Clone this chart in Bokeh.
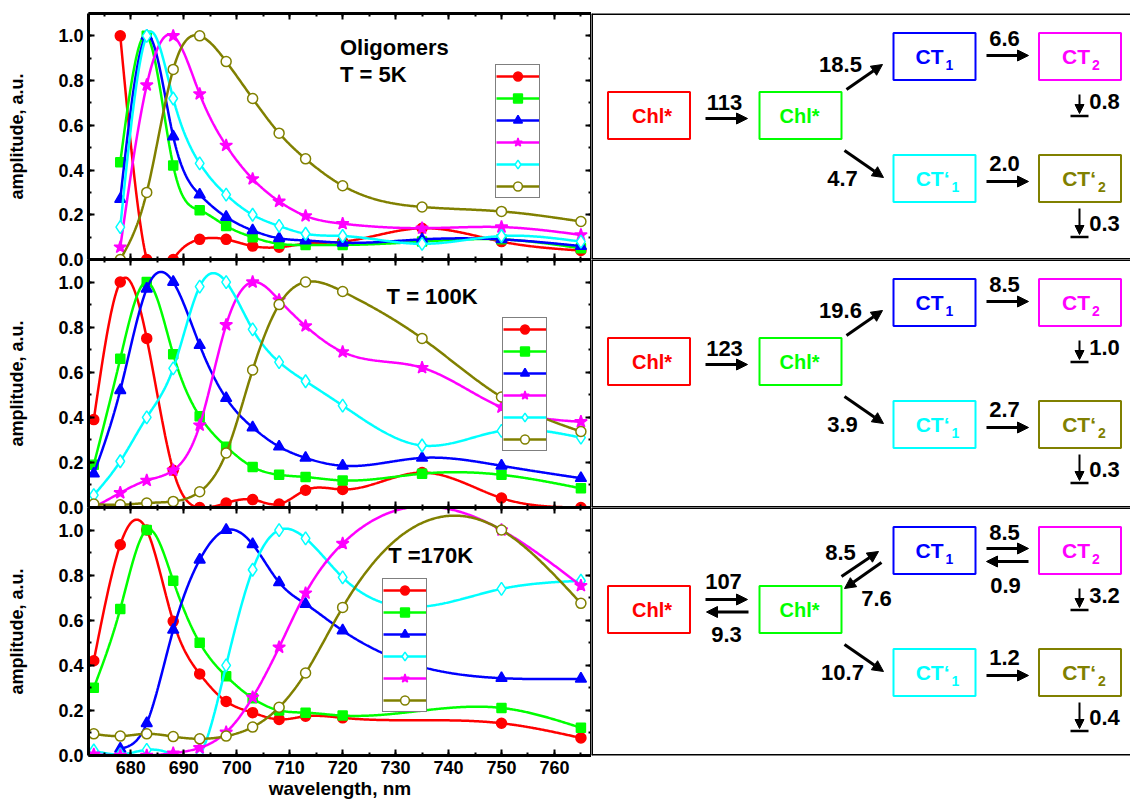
import numpy as np
from bokeh.plotting import figure
from bokeh.models import (Range1d, LinearAxis, SingleIntervalTicker, PrintfTickFormatter,
                          Legend, LegendItem, Label, Arrow, NormalHead, Span,
                          CustomLabelingPolicy)
from bokeh.layouts import row, column
from bokeh.core.properties import value
from bokeh.embed import file_html
from bokeh.resources import INLINE

FONT = "Liberation Sans"

# ---------------- data ----------------
wl_5K = [678, 683, 688, 693, 698, 703, 708, 713, 720, 735, 750, 765]
wl_100K = [673, 678, 683, 688, 693, 698, 703, 708, 713, 720, 735, 750, 765]
wl_170K = [673, 678, 683, 688, 693, 698, 703, 708, 713, 720, 750, 765]
wl_170K_blue = [678, 683, 688, 693, 698, 703, 708, 713, 720, 750, 765]

red_5K = [1.0, 0.0, 0.0, 0.09, 0.09, 0.06, 0.055, 0.07, 0.08, 0.14, 0.08, 0.04]
green_5K = [0.435, 1.0, 0.42, 0.22, 0.15, 0.1, 0.07, 0.065, 0.065, 0.08, 0.09, 0.05]
blue_5K = [0.27, 1.0, 0.55, 0.29, 0.19, 0.13, 0.095, 0.085, 0.075, 0.09, 0.09, 0.06]
magenta_5K = [0.055, 0.78, 1.0, 0.74, 0.51, 0.36, 0.26, 0.195, 0.16, 0.14, 0.145, 0.11]
cyan_5K = [0.145, 1.0, 0.72, 0.43, 0.29, 0.2, 0.15, 0.115, 0.105, 0.07, 0.105, 0.08]
olive_5K = [0.0, 0.3, 0.85, 1.0, 0.885, 0.72, 0.565, 0.45, 0.33, 0.235, 0.215, 0.17]

red_100K = [0.39, 1.0, 0.75, 0.165, 0.0, 0.02, 0.035, 0.015, 0.077, 0.08, 0.155, 0.042, 0.0]
green_100K = [0.19, 0.66, 1.0, 0.68, 0.405, 0.27, 0.18, 0.145, 0.135, 0.12, 0.15, 0.145, 0.085]
blue_100K = [0.15, 0.52, 0.97, 1.0, 0.72, 0.485, 0.355, 0.27, 0.22, 0.185, 0.22, 0.185, 0.13]
magenta_100K = [0.0, 0.065, 0.12, 0.165, 0.365, 0.81, 1.0, 0.92, 0.805, 0.69, 0.62, 0.445, 0.38]
cyan_100K = [0.055, 0.205, 0.4, 0.617, 0.98, 1.0, 0.79, 0.645, 0.56, 0.452, 0.275, 0.34, 0.31]
olive_100K = [0.015, 0.012, 0.02, 0.027, 0.07, 0.242, 0.61, 0.9, 1.0, 0.958, 0.75, 0.49, 0.337]

red_170K = [0.42, 0.935, 1.0, 0.595, 0.362, 0.24, 0.19, 0.16, 0.174, 0.167, 0.143, 0.078]
green_170K = [0.3, 0.65, 1.0, 0.775, 0.5, 0.352, 0.254, 0.2, 0.19, 0.177, 0.211, 0.123]
blue_170K = [0.03, 0.143, 0.557, 0.868, 1.0, 0.937, 0.768, 0.672, 0.554, 0.343, 0.34]
cyan_170K = [0.022, 0.005, 0.025, 0.0, 0.0, 0.4, 0.824, 1.0, 0.963, 0.79, 0.739, 0.775]
magenta_170K = [0.005, 0.0, 0.0, 0.01, 0.034, 0.103, 0.258, 0.48, 0.72, 0.94, 1.0, 0.753]
olive_170K = [0.096, 0.086, 0.096, 0.084, 0.074, 0.086, 0.126, 0.214, 0.366, 0.657, 1.0, 0.675]

panel_titles = [["Oligomers", "T = 5K"], ["T = 100K"], ["T =170K"]]

# rate constants of the kinetic schemes
rates_5K = ["113", "18.5", "4.7", "6.6", "2.0", "0.8", "0.3"]
rates_100K = ["123", "19.6", "3.9", "8.5", "2.7", "1.0", "0.3"]
rates_170K = ["107", "8.5", "10.7", "8.5", "1.2", "3.2", "0.4"]
back_rates_170K = ["9.3", "7.6", "0.9"]

# ---------------- styles ----------------
STY = {
    "red": dict(color="#FF0000", marker="circle", fill="#FF0000", size=10),
    "green": dict(color="#00FF00", marker="square", fill="#00FF00", size=9),
    "blue": dict(color="#0000FF", marker="triangle", fill="#0000FF", size=11),
    "magenta": dict(color="#FF00FF", marker="star", fill="#FF00FF", size=13),
    "cyan": dict(color="#00FFFF", marker="diamond", fill="white", size=13),
    "olive": dict(color="#808000", marker="circle", fill="white", size=10),
}

NO_LABELS = CustomLabelingPolicy(code="for (const i of indices) { if (false) yield i }")


def spline_curve(x, y, n=500):
    """natural cubic spline connecting the measured points (line style only)"""
    x = np.asarray(x, float)
    y = np.asarray(y, float)
    m = len(x)
    h = np.diff(x)
    A = np.zeros((m, m))
    r = np.zeros(m)
    A[0, 0] = A[-1, -1] = 1.0
    for i in range(1, m - 1):
        A[i, i - 1] = h[i - 1]
        A[i, i] = 2 * (h[i - 1] + h[i])
        A[i, i + 1] = h[i]
        r[i] = 3 * ((y[i + 1] - y[i]) / h[i] - (y[i] - y[i - 1]) / h[i - 1])
    c = np.linalg.solve(A, r)
    b = (y[1:] - y[:-1]) / h - h * (2 * c[:-1] + c[1:]) / 3
    d = (c[1:] - c[:-1]) / (3 * h)
    xs = np.linspace(x[0], x[-1], n)
    idx = np.clip(np.searchsorted(x, xs, side="right") - 1, 0, m - 2)
    t = xs - x[idx]
    ys = y[idx] + b[idx] * t + c[idx] * t ** 2 + d[idx] * t ** 3
    return xs, ys


def style_axis(ax, labels):
    ax.axis_line_width = 3
    ax.axis_line_color = "black"
    ax.major_tick_in = 6
    ax.major_tick_out = 0
    ax.minor_tick_in = 3
    ax.minor_tick_out = 0
    ax.major_tick_line_width = 2
    ax.minor_tick_line_width = 2
    ax.major_label_text_font = FONT
    ax.major_label_text_font_style = "bold"
    ax.major_label_text_color = "black"
    if labels:
        ax.major_label_text_font_size = "18px"
        ax.major_label_standoff = 5
    else:
        ax.major_label_text_font_size = "0px"
        ax.major_label_standoff = 0
        ax.major_label_policy = NO_LABELS


def make_panel(series, height, top_b, bottom_b, xlabels, legend_loc, titles, title_xy,
               shift=0):
    p = figure(width=591, height=height, x_range=Range1d(672, 767), y_range=Range1d(0, 1.1),
               output_backend="svg", toolbar_location=None,
               min_border_left=88, min_border_right=0, min_border_top=top_b,
               min_border_bottom=bottom_b, border_fill_color=None)
    if shift:
        p.styles = {"margin-top": "-%dpx" % shift}
    p.grid.visible = False
    p.outline_line_color = None
    p.background_fill_color = "white"
    p.xaxis.ticker = SingleIntervalTicker(interval=10, num_minor_ticks=2)
    p.yaxis.ticker = SingleIntervalTicker(interval=0.2, num_minor_ticks=2)
    p.yaxis.formatter = PrintfTickFormatter(format="%.1f")
    style_axis(p.xaxis[0], xlabels)
    style_axis(p.yaxis[0], True)
    p.yaxis.axis_label = "amplitude, a.u."
    p.yaxis.axis_label_text_font = FONT
    p.yaxis.axis_label_text_font_style = "bold"
    p.yaxis.axis_label_text_font_size = "18px"
    p.yaxis.axis_label_text_color = "black"
    p.yaxis.axis_label_standoff = 28
    if xlabels:
        p.xaxis.axis_label = "wavelength, nm"
        p.xaxis.axis_label_text_font = FONT
        p.xaxis.axis_label_text_font_style = "bold"
        p.xaxis.axis_label_text_font_size = "19px"
        p.xaxis.axis_label_text_color = "black"
        p.xaxis.axis_label_standoff = 1
    top = LinearAxis(ticker=SingleIntervalTicker(interval=10, num_minor_ticks=2))
    style_axis(top, False)
    p.add_layout(top, "above")
    right = LinearAxis(ticker=SingleIntervalTicker(interval=0.2, num_minor_ticks=2))
    style_axis(right, False)
    p.add_layout(right, "right")

    items = []
    for key, xv, yv in series:
        s = STY[key]
        xs, ys = spline_curve(xv, yv)
        rl = p.line(xs, ys, line_color=s["color"], line_width=2.5)
        rs = p.scatter(xv, yv, marker=s["marker"], size=s["size"], fill_color=s["fill"],
                       line_color=s["color"], line_width=1.5)
        items.append(LegendItem(label=value(" "), renderers=[rl, rs]))
    leg = Legend(items=items, location=legend_loc, glyph_width=43, glyph_height=22,
                 label_height=22, label_width=0, label_standoff=0, spacing=0, padding=0,
                 margin=0, border_line_color="black", border_line_width=1.2,
                 label_text_font_size="12px", background_fill_color="white",
                 background_fill_alpha=1.0)
    p.add_layout(leg)
    tx, ty = title_xy
    for i, t in enumerate(titles):
        p.add_layout(Label(x=tx, y=ty - i * 0.121, text=t, text_font=FONT,
                           text_font_style="bold", text_font_size="22px",
                           text_align="left", text_baseline="alphabetic", text_color="black"))
    return p


# ---------------- scheme geometry (screen-like units of the scheme panel) ----------------
BOX_X = [57.5, 209.0, 343.0, 488.5]
ROW_MID, ROW_TOP, ROW_BOT = 102.0, 43.0, 165.0
BOX_W, BOX_H = 82, 47
SCHEME_W = 539


def make_scheme(height, top_b, bottom_b, frame_h, rates, back=None):
    p = figure(width=SCHEME_W, height=height, x_range=Range1d(0, SCHEME_W),
               y_range=Range1d(frame_h, 0),
               output_backend="svg", toolbar_location=None,
               min_border_left=0, min_border_right=0, min_border_top=top_b,
               min_border_bottom=bottom_b, x_axis_location=None, y_axis_location=None)
    p.grid.visible = False
    p.outline_line_color = None
    for loc, dim in [(0, "width"), (frame_h, "width"), (0, "height")]:
        p.add_layout(Span(location=loc, dimension=dim, line_color="black", line_width=3))

    bx = [BOX_X[0], BOX_X[1], BOX_X[2], BOX_X[3], BOX_X[2], BOX_X[3]]
    by = [ROW_MID, ROW_MID, ROW_TOP, ROW_TOP, ROW_BOT, ROW_BOT]
    cols = ["#FF0000", "#00FF00", "#0000FF", "#FF00FF", "#00FFFF", "#808000"]
    p.rect(x=bx, y=by, width=BOX_W, height=BOX_H, fill_color=None, line_color=cols,
           line_width=2)

    big = dict(text_font=value(FONT), text_font_style="bold", text_baseline="middle")
    p.text(x=[bx[0] + 3, bx[1] - 1], y=[ROW_MID, ROW_MID], text=["Chl*", "Chl*"],
           text_color=["#FF0000", "#00FF00"], text_align="center", text_font_size="20px", **big)
    p.text(x=[bx[2] + 9, bx[3] + 10, bx[4] + 15, bx[5] + 16],
           y=[ROW_TOP, ROW_TOP, ROW_BOT, ROW_BOT],
           text=["CT", "CT", "CT\u2018", "CT\u2018"], text_color=cols[2:],
           text_align="right", text_font_size="21px", **big)
    p.text(x=[bx[2] + 11, bx[3] + 12, bx[4] + 17, bx[5] + 18],
           y=[ROW_TOP + 8, ROW_TOP + 8, ROW_BOT + 8, ROW_BOT + 8],
           text=["1", "2", "1", "2"], text_color=cols[2:],
           text_align="left", text_font_size="14px", **big)

    def arrow(x0, y0, x1, y1, lw=3, size=11):
        p.add_layout(Arrow(end=NormalHead(size=size, fill_color="black", line_color="black",
                                          line_width=1),
                           x_start=x0, y_start=y0, x_end=x1, y_end=y1,
                           line_color="black", line_width=lw))

    lab = dict(text_font=value(FONT), text_font_style="bold", text_baseline="middle",
               text_align="center", text_color="black", text_font_size="22px")
    tx, ty = [], []
    if back is None:
        arrow(114, 105, 156, 105)
        tx += [133]; ty += [89]
        arrow(255, 76, 291, 51)
        tx += [249]; ty += [51]
        arrow(395, 42, 437, 42)
        tx += [413]; ty += [24.5]
    else:
        arrow(114, 92, 156, 92)
        arrow(157, 104.5, 115, 104.5)
        tx += [132, 135]; ty += [74, 127]
        arrow(250, 69, 287, 44)
        arrow(290, 55, 253, 81)
        tx += [249, 285]; ty += [45, 91]
        arrow(395, 41, 437, 41)
        arrow(437, 54, 395, 54)
        tx += [413, 414]; ty += [24.5, 78]
    arrow(253, 137, 292, 164)
    tx += [251]; ty += [165]
    arrow(395, 168, 437, 168)
    tx += [413]; ty += [150]
    # decays
    arrow(488, 81, 488, 100, lw=2, size=9)
    arrow(488, 195, 488, 221, lw=2, size=9)
    p.segment(x0=[479, 479], y0=[102.5, 223.5], x1=[497, 497], y1=[102.5, 223.5],
              line_color="black", line_width=2.5)
    tx += [513, 513]; ty += [87.5, 210]

    if back is None:
        txt = [rates[0], rates[1], rates[3], rates[2], rates[4], rates[5], rates[6]]
    else:
        txt = [rates[0], back[0], rates[1], back[1], rates[3], back[2], rates[2], rates[4],
               rates[5], rates[6]]
    p.text(x=tx, y=ty, text=txt, **lab)
    return p


s5 = [("red", wl_5K, red_5K), ("green", wl_5K, green_5K), ("blue", wl_5K, blue_5K),
      ("magenta", wl_5K, magenta_5K), ("cyan", wl_5K, cyan_5K), ("olive", wl_5K, olive_5K)]
s100 = [("red", wl_100K, red_100K), ("green", wl_100K, green_100K),
        ("blue", wl_100K, blue_100K), ("magenta", wl_100K, magenta_100K),
        ("cyan", wl_100K, cyan_100K), ("olive", wl_100K, olive_100K)]
s170 = [("red", wl_170K, red_170K), ("green", wl_170K, green_170K),
        ("blue", wl_170K_blue, blue_170K), ("cyan", wl_170K, cyan_170K),
        ("magenta", wl_170K, magenta_170K), ("olive", wl_170K, olive_170K)]

OV = 14  # overlap so that the "0.0" labels at the panel joints are not cut
l1 = make_panel(s5, 13 + 246 + OV, 13, OV, False, (407, 61), panel_titles[0], (719.5, 0.947))
l2 = make_panel(s100, 248 + OV, 0, OV, False, (414, 56), panel_titles[1], (728.3, 0.936),
                shift=OV)
l3 = make_panel(s170, 248 + 50, 0, 50, True, (294, 43), panel_titles[2], (728.6, 0.886),
                shift=OV)

r1 = make_scheme(13 + 246, 13, 0, 246, rates_5K)
r2 = make_scheme(248, 0, 0, 248, rates_100K)
r3 = make_scheme(248 + 50, 0, 50, 248, rates_170K, back_rates_170K)

layout = row(column(l1, l2, l3, spacing=0), column(r1, r2, r3, spacing=0), spacing=0)

open("out.html", "w").write(file_html(layout, INLINE))
